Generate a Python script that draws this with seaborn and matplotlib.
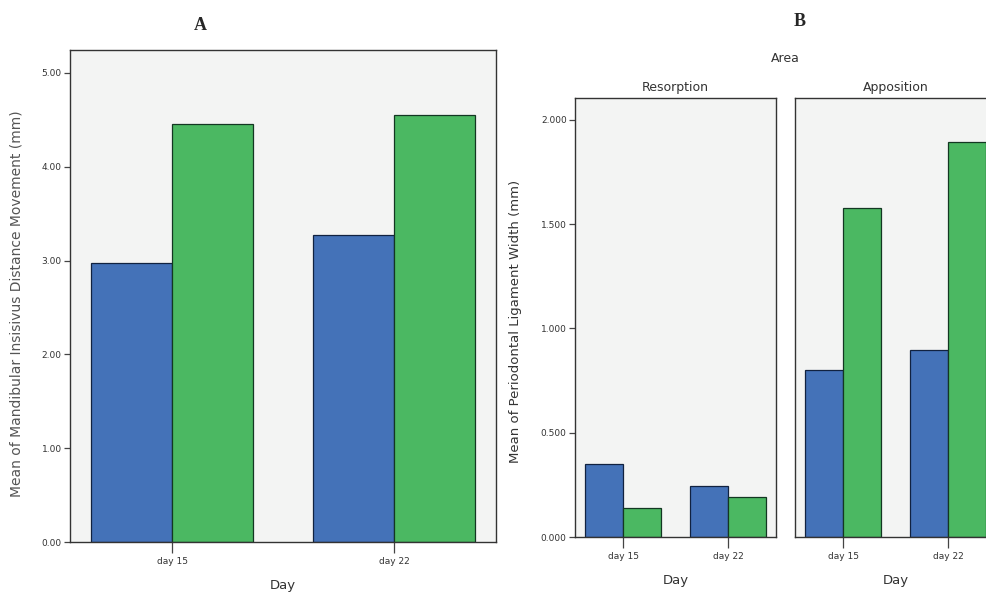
import pandas as pd
import numpy as np
import matplotlib
matplotlib.use("Agg")
import matplotlib.pyplot as plt
import seaborn as sns
from matplotlib.colors import to_rgb

# Data
days = ["day 15", "day 22"]
groups = ["Control", "Treatment"]

# Panel A - mandibular insisivus distance movement (mm)
movement_control = [2.97, 3.27]
movement_treat = [4.46, 4.55]

# Panel B - periodontal ligament width (mm)
resorption_control = [0.35, 0.245]
resorption_treat = [0.14, 0.19]
apposition_control = [0.80, 0.897]
apposition_treat = [1.578, 1.894]

a_ticks = [0, 1, 2, 3, 4, 5]
a_ticklabels = ["0.00", "1.00", "2.00", "3.00", "4.00", "5.00"]
b_ticks = [0, 0.5, 1.0, 1.5, 2.0]
b_ticklabels = ["0.000", "0.500", "1.000", "1.500", "2.000"]

blue = "#4472b8"
green = "#4bb862"
palette = {"Control": blue, "Treatment": green}


def make_df(ctrl, treat):
    return pd.DataFrame({
        "Day": days * 2,
        "Group": [groups[0]] * 2 + [groups[1]] * 2,
        "Value": list(ctrl) + list(treat),
    })


sns.set_style("white")
plt.rcParams["font.family"] = ["DejaVu Sans"]

fig = plt.figure(figsize=(9.86, 5.93), dpi=100)
fig.patch.set_facecolor("white")

ax_a = fig.add_axes([0.071, 0.086, 0.432, 0.8297])
ax_r = fig.add_axes([0.5832, 0.0944, 0.2039, 0.7403])
ax_p = fig.add_axes([0.8063, 0.0944, 0.2039, 0.7403])


def draw(ax, df, ylim, ticks, ticklabels):
    sns.barplot(data=df, x="Day", y="Value", hue="Group", palette=palette,
                width=0.73, gap=0, errorbar=None, legend=False, ax=ax,
                saturation=1)
    for bar in ax.patches:
        r, g, b = to_rgb(bar.get_facecolor())
        bar.set_edgecolor((r * 0.25, g * 0.3, b * 0.35))
        bar.set_linewidth(0.9)
    ax.set_facecolor("#f3f4f3")
    ax.set_xlim(-0.46, 1.46)
    ax.set_ylim(*ylim)
    ax.set_yticks(ticks)
    ax.set_yticklabels(ticklabels, fontsize=6.5, color="#333333")
    ax.set_xticks([0, 1])
    ax.set_xticklabels(days, fontsize=6.5, color="#333333")
    ax.tick_params(axis="y", length=4, width=0.9, color="#444444", pad=2,
                   left=True)
    ax.tick_params(axis="x", length=8, width=0.9, color="#444444", pad=3,
                   bottom=True)
    for s in ax.spines.values():
        s.set_color("#333333")
        s.set_linewidth(1.0)
    ax.set_xlabel("Day", fontsize=9.5, color="#333333", labelpad=9)
    ax.set_ylabel("")


draw(ax_a, make_df(movement_control, movement_treat), (0, 5.245),
     a_ticks, a_ticklabels)
ax_a.set_ylabel("Mean of Mandibular Insisivus Distance Movement (mm)",
                fontsize=10, color="#555555")
ax_a.yaxis.set_label_coords(-0.11, 0.485)

draw(ax_r, make_df(resorption_control, resorption_treat), (0, 2.105),
     b_ticks, b_ticklabels)
ax_r.set_ylabel("Mean of Periodontal Ligament Width (mm)",
                fontsize=9.5, color="#333333")
ax_r.yaxis.set_label_coords(-0.264, 0.49)
ax_r.set_title("Resorption", fontsize=9, color="#333333", pad=5)

draw(ax_p, make_df(apposition_control, apposition_treat), (0, 2.105),
     b_ticks, b_ticklabels)
ax_p.set_yticks([])
ax_p.set_title("Apposition", fontsize=9, color="#333333", pad=5)

fig.text(785 / 986, 1 - 58 / 593, "Area", fontsize=9, color="#333333",
         ha="center", va="center")
fig.text(200 / 986, 1 - 25 / 593, "A", fontsize=13, fontweight="bold",
         family="Liberation Serif", ha="center", va="center")
fig.text(800 / 986, 1 - 22 / 593, "B", fontsize=13, fontweight="bold",
         family="Liberation Serif", ha="center", va="center")

fig.savefig("out.png", dpi=100)
